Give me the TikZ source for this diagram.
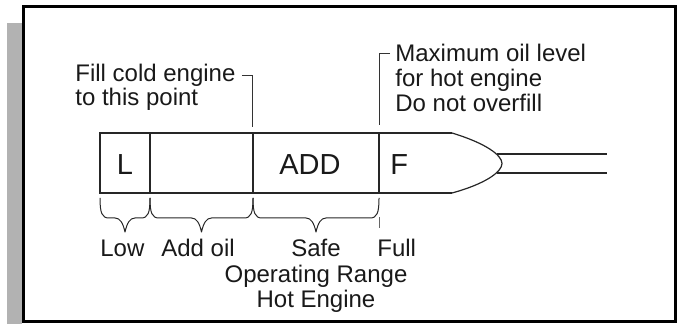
\documentclass[tikz,border=0pt]{standalone}
\usepackage{fontspec}
\setmainfont{Liberation Sans}

\begin{document}
\begin{tikzpicture}[x=0.5pt, y=-0.5pt,
    stick/.style={draw=black!85, line width=0.6pt},
    leader/.style={draw=black!80, line width=0.45pt},
    oilbrace/.style={draw=black!85, line width=0.5pt, line join=round},
    lbl/.style={inner sep=0pt, font=\fontsize{12}{12.5}\selectfont, text=black!90},
    cellmark/.style={inner sep=0pt, font=\fontsize{14.5}{15}\selectfont, text=black!90}]
    \useasboundingbox (0,0) rectangle (683,324);
    % frame with grey side bar
    \fill[black!30] (7,23) rectangle (22,324);
    \draw[line width=1.75pt] (23.5,6.5) rectangle (675.5,321.5);

    % dipstick blade
    \draw[stick] (452,133) -- (100,133) -- (100,193) -- (452,193);
    \draw[stick] (452,133) .. controls (485,143) and (502,155) .. (502,163.5)
        .. controls (502,172) and (485,184) .. (452,193);
    \foreach \x in {150,253,379}
        \draw[stick] (\x,133) -- (\x,193);
    \draw[stick] (497,154) -- (607,154);
    \draw[stick] (497,173) -- (607,173);

    \node[cellmark, anchor=base] (lmark) at (125,175) {L};
    \node[cellmark, anchor=base] (addmark) at (310,175) {ADD};
    \node[cellmark, anchor=base west] (fmark) at (390,175) {F};

    % labels above
    \node[lbl, anchor=base west] (cold1) at (75,81.7) {Fill cold engine};
    \node[lbl, anchor=base west] (cold2) at (75,105.7) {to this point};
    \node[lbl, anchor=base west] (hot1) at (395,61.7) {Maximum oil level};
    \node[lbl, anchor=base west] (hot2) at (395,86.7) {for hot engine};
    \node[lbl, anchor=base west] (hot3) at (395,111.7) {Do not overfill};

    \coordinate (coldlevel) at (252.7,127);
    \coordinate (hotlevel) at (379,125);
    \draw[leader] ([xshift=3pt]cold1.east) -| (coldlevel);
    \draw[leader] ([xshift=-2.5pt]hot1.west) -| (hotlevel);

    % braces below
    \foreach \a/\b in {100/150, 150/253, 253/379} {
        \pgfmathsetmacro\m{(\a+\b)/2}
        \draw[oilbrace] (\a,198) .. controls (\a,213) and (\a+2,218) .. (\a+9,218)
            -- (\m-10,218) .. controls (\m-5,218) and (\m-2,223) .. (\m,232)
            .. controls (\m+2,223) and (\m+5,218) .. (\m+10,218)
            -- (\b-9,218) .. controls (\b-2,218) and (\b,213) .. (\b,198);
    }
    \coordinate (fulltop) at (379,217);
    \coordinate (fullend) at (379,228);
    \draw[leader, draw=black!60] (fulltop) -- (fullend);

    % labels below
    \node[lbl, anchor=base west] (low) at (100,257) {Low};
    \node[lbl, anchor=base] (addoil) at (198,257) {Add oil};
    \node[lbl, anchor=base] (safe) at (316,257) {Safe};
    \node[lbl, anchor=base west] (full) at (377,257) {Full};
    \node[lbl, anchor=base] (oprange) at (316,283) {Operating Range};
    \node[lbl, anchor=base] (hoteng) at (316,308) {Hot Engine};
\end{tikzpicture}
\end{document}
